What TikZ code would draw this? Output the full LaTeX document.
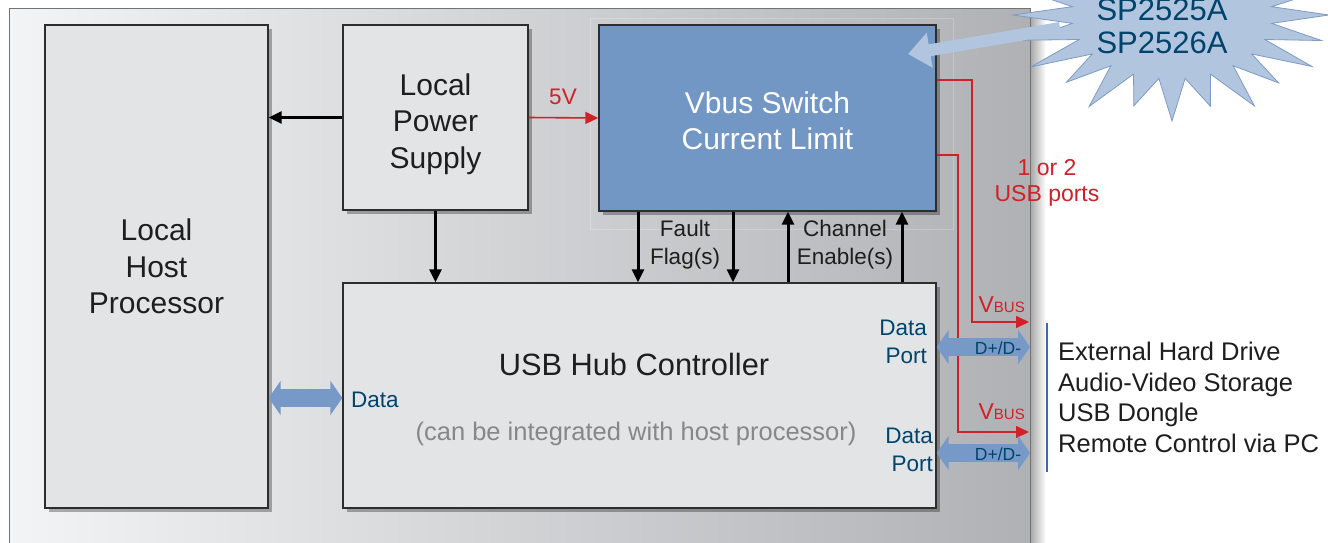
\documentclass[tikz,border=0pt]{standalone}
\usepackage{fontspec}
\setmainfont{Liberation Sans}
\usetikzlibrary{arrows.meta,shadows,calc}
\definecolor{panelL}{RGB}{243,244,245}
\definecolor{panelM}{RGB}{221,222,224}
\definecolor{panelR}{RGB}{176,177,180}
\definecolor{boxfill}{RGB}{227,228,230}
\definecolor{vbusblue}{RGB}{114,151,196}
\definecolor{arrowblue}{RGB}{118,153,199}
\definecolor{starfill}{RGB}{177,197,222}
\definecolor{starline}{RGB}{125,155,198}
\definecolor{darkblue}{RGB}{0,68,108}
\definecolor{redline}{RGB}{208,32,40}
\definecolor{listline}{RGB}{60,105,175}
\definecolor{boxline}{RGB}{45,45,45}
\definecolor{txtgray}{RGB}{135,135,135}
\definecolor{txt}{RGB}{30,30,30}
\tikzset{
  blockbox/.style={draw=boxline, line width=1.4pt, fill=boxfill, inner sep=0pt, align=center, text=txt,
     drop shadow={shadow xshift=4pt, shadow yshift=-4pt, opacity=0.3, fill=black}},
  big/.style={font=\fontsize{30}{36.5}\selectfont},
  mid/.style={font=\fontsize{22.5}{28}\selectfont},
  blk/.style={-{Triangle[length=13pt,width=12pt]}, line width=3pt, draw=black},
  redarr/.style={-{Triangle[length=13pt,width=12pt]}, line width=1.6pt, draw=redline},
  dblue/.style={{Triangle[length=12pt,width=34pt]}-{Triangle[length=12pt,width=34pt]}, line width=18pt, draw=arrowblue},
  starshaft/.style={-{Triangle[length=22pt,width=34pt]}, line width=12pt, draw=starfill},
}
\begin{document}
\begin{tikzpicture}[x=1pt,y=-1pt]
\useasboundingbox (0,0) rectangle (1328,542);
\fill[white] (0,0) rectangle (1328,542);
% panel shadow and panel
\shade[left color=black!35, right color=white] (1030,12) rectangle (1046,545);
\shade[left color=panelL, middle color=panelM, right color=panelR] (9,8) rectangle (1030,545);
\draw[gray!90!black, line width=0.8pt] (9,545) -- (9,8) -- (1030,8) -- (1030,545);
\draw[white, opacity=0.22, line width=1pt] (590,18) rectangle (953,229);

% blocks
\node[blockbox, big, minimum width=223pt, minimum height=483pt] (host) at (156.5,266.5) {Local\\Host\\Processor};
\node[blockbox, minimum width=185pt, minimum height=185pt] (lps) at (435.5,117.5) {};
\node[big, text=txt, align=center] (lpst) at (435.5,124) {Local\\Power\\Supply};
\node[blockbox, fill=vbusblue, minimum width=337pt, minimum height=186pt] (vbus) at (767.5,118) {};
\node[big, text=white, align=center] (vbust) at (767.5,121) {Vbus Switch\\Current Limit};
\node[blockbox, minimum width=593pt, minimum height=225pt] (hub) at (639.5,395.5) {};
\node[font=\fontsize{30.8}{34}\selectfont, text=txt] (hubt) at (634,364) {USB Hub Controller};
\node[font=\fontsize{25.5}{28}\selectfont, text=txtgray] (hubn) at (636,434) {(can be integrated with host processor)};

% black connectors
\draw[blk] (lps.west) -- (lps.west -| host.east);
\draw[blk] (lps.south) -- (lps.south |- hub.north);
\coordinate (f1) at (638,0);
\coordinate (f2) at (733,0);
\coordinate (c1) at (788,0);
\coordinate (c2) at (902,0);
\draw[blk] (vbus.south -| f1) -- (hub.north -| f1);
\draw[blk] (vbus.south -| f2) -- (hub.north -| f2);
\draw[blk] (hub.north -| c1) -- (vbus.south -| c1);
\draw[blk] (hub.north -| c2) -- (vbus.south -| c2);
\node[mid, text=txt, align=center] (fault) at (685,245) {Fault\\Flag(s)};
\node[mid, text=txt, align=center] (chen) at (845,245) {Channel\\Enable(s)};

% 5V
\draw[redarr] (lps.east) -- (vbus.west);
\node[font=\fontsize{22.5}{24}\selectfont, text=redline] (fivev) at (563,97) {5V};

% red VBUS lines
\coordinate (r1) at (972,80);
\coordinate (r2) at (958,155);
\coordinate (p1) at (1029,322);
\coordinate (p2) at (1029,432);
\draw[redarr] (vbus.east |- r1) -- (r1) |- (p1);
\draw[redarr] (vbus.east |- r2) -- (r2) |- (p2);
\node[font=\fontsize{23}{26}\selectfont, text=redline, align=center] (ports) at (1047,183) {1 or 2\\USB ports};
\node[anchor=base east, inner sep=0pt, text=redline, font=\fontsize{23}{24}\selectfont] (vb1) at (1025,312) {V{\fontsize{15}{16}\selectfont BUS}};
\node[anchor=base east, inner sep=0pt, text=redline, font=\fontsize{23}{24}\selectfont] (vb2) at (1025,419) {V{\fontsize{15}{16}\selectfont BUS}};

% data arrows
\coordinate (d1) at (0,347);
\coordinate (d2) at (0,453);
\coordinate (dd) at (0,398);
\coordinate (portR) at (1030,0);
\draw[dblue] (hub.east |- d1) -- (portR |- d1);
\draw[dblue] (hub.east |- d2) -- (portR |- d2);
\draw[dblue] (host.east |- dd) -- (hub.west |- dd);
\node[font=\fontsize{17.5}{18}\selectfont, text=darkblue] (dp1) at (998,348) {D+/D-};
\node[font=\fontsize{17.5}{18}\selectfont, text=darkblue] (dp2) at (998,454) {D+/D-};
\node[mid, text=darkblue, align=right, anchor=east, inner sep=0pt] (port1) at (927,342) {Data\\Port};
\node[mid, text=darkblue, align=right, anchor=east, inner sep=0pt] (port2) at (933,450) {Data\\Port};
\node[mid, text=darkblue, anchor=west, inner sep=0pt] (datal) at (351,400) {Data};

% device list
\coordinate (l1) at (1047,323);
\coordinate (l2) at (1047,472);
\draw[listline, line width=1.8pt] (l1) -- (l2);
\node[anchor=west, align=left, text=txt, inner sep=0pt, font=\fontsize{25.5}{30.5}\selectfont] (list) at (1058,397.5)
  {External Hard Drive\\Audio-Video Storage\\USB Dongle\\Remote Control via PC};

% starburst
\filldraw[fill=starfill, draw=starline, line width=0.8pt]
  (1172+157,15)
  \foreach \i [evaluate=\i as \rr using {ifthenelse(mod(\i,2)==0,1+0.06*sin(\i*97),0.64)}, evaluate=\i as \aa using {\i*7.5}] in {1,...,47} {
    -- ({1172+157*\rr*cos(\aa)},{15+100*\rr*sin(\aa)})
  } -- cycle;
\coordinate (sb) at (1060,28);
\coordinate (vt) at (908,54);
\draw[starshaft] (sb) -- (vt);
\node[font=\fontsize{31}{33}\selectfont, text=darkblue, align=center] (sp) at (1162,26.5) {SP2525A\\SP2526A};
\end{tikzpicture}
\end{document}
